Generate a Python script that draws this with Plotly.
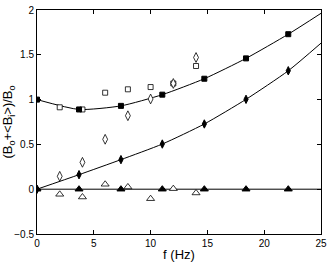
import plotly.graph_objects as go

# Filled markers (fit points)
f_fill = [0, 3.7, 7.39, 11.03, 14.73, 18.4, 22.12]
sq_fill = [1.0, 0.89, 0.93, 1.055, 1.233, 1.46, 1.73]
di_fill = [0.0, 0.162, 0.33, 0.504, 0.728, 1.003, 1.322]
tr_fill = [0, 0, 0, 0, 0, 0, 0]

# Open markers
f_open = [2, 4, 6, 8, 10, 12, 14]
sq_open = [0.914, 0.89, 1.077, 1.115, 1.14, 1.18, 1.375]
di_open = [0.144, 0.30, 0.557, 0.82, 1.007, 1.18, 1.47]
tr_open = [-0.057, -0.087, 0.055, 0.025, -0.106, 0.006, -0.042]

# Fit curves
f_curve = [0, 3.7, 7.39, 11.03, 14.73, 18.4, 22.12, 25]
curve_up = [1.0, 0.89, 0.93, 1.055, 1.233, 1.46, 1.73, 1.963]
curve_lo = [0.0, 0.162, 0.33, 0.504, 0.728, 1.003, 1.322, 1.63]
f_zero = [0, 25]
curve_zero = [0, 0]

x_ticks = [0, 5, 10, 15, 20, 25]
y_ticks = [-0.5, 0, 0.5, 1, 1.5, 2]
y_ticktext = ["\u22120.5", "0", "0.5", "1", "1.5", "2"]

fig = go.Figure()
for xs, ys in [(f_curve, curve_up), (f_curve, curve_lo), (f_zero, curve_zero)]:
    fig.add_trace(go.Scatter(x=xs, y=ys, mode="lines",
                             line=dict(color="black", width=1, shape="spline", smoothing=0.6),
                             hoverinfo="skip"))

def mk(symbol, size, filled):
    return dict(symbol=symbol, size=size,
                color="black" if filled else "white",
                line=dict(color="black", width=1 if filled else 0.8))

fig.add_trace(go.Scatter(x=f_open, y=sq_open, mode="markers", marker=mk("square", 5, False)))
fig.add_trace(go.Scatter(x=f_open, y=di_open, mode="markers", marker=mk("diamond-tall", 7, False)))
fig.add_trace(go.Scatter(x=f_open, y=tr_open, mode="markers", marker=mk("triangle-up", 7, False)))
fig.add_trace(go.Scatter(x=f_fill, y=sq_fill, mode="markers", marker=mk("square", 5, True)))
fig.add_trace(go.Scatter(x=f_fill, y=di_fill, mode="markers", marker=mk("diamond-tall", 6, True)))
fig.add_trace(go.Scatter(x=f_fill, y=tr_fill, mode="markers", marker=mk("triangle-up", 7, True)))

font = dict(family="Liberation Sans, Arial", size=10, color="black")
axis_common = dict(showline=True, linecolor="black", linewidth=1, mirror="ticks",
                   ticks="inside", ticklen=4, tickcolor="black", showgrid=False,
                   zeroline=False, tickfont=font, automargin=False)

fig.update_layout(
    width=332, height=262,
    margin=dict(l=37, r=11, t=10, b=28),
    paper_bgcolor="white", plot_bgcolor="white",
    showlegend=False,
    xaxis=dict(range=[0, 25], tickvals=x_ticks, ticktext=[str(v) for v in x_ticks],
               title=dict(text="f (Hz)", standoff=1,
                          font=dict(family="Liberation Sans, Arial", size=13, color="black")),
               **axis_common),
    yaxis=dict(range=[-0.5, 2], tickvals=y_ticks, ticktext=y_ticktext,
               title=dict(text="(B<sub>o</sub>+<B<sub>i</sub>>)/B<sub>o</sub>", standoff=0,
                          font=dict(family="Liberation Sans, Arial", size=13, color="black")),
               **axis_common),
)

fig.write_html("out.html", config={"displayModeBar": False},
               post_script="document.body.style.margin='0';")
